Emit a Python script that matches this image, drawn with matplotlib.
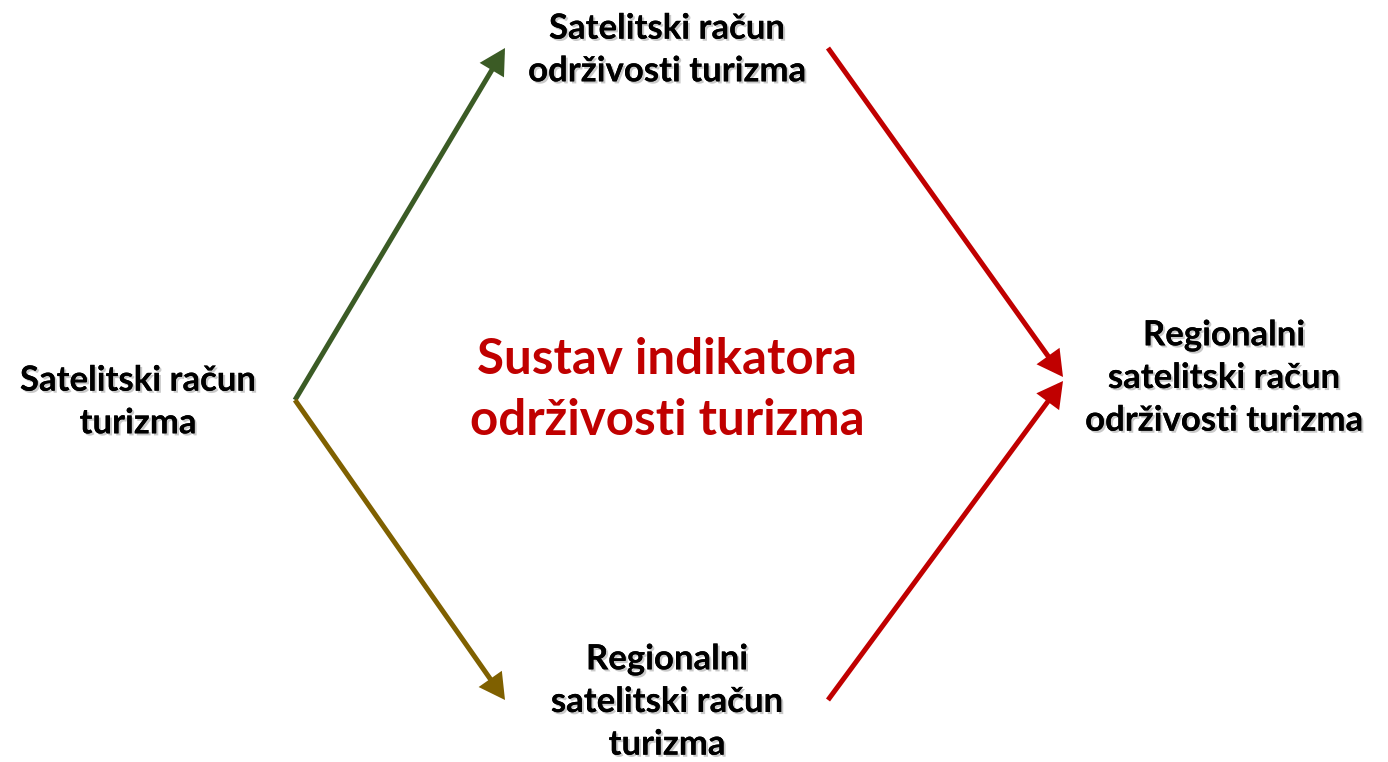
import matplotlib

matplotlib.use("Agg")
import matplotlib.pyplot as plt
import matplotlib.patheffects as pe
from matplotlib.patches import FancyArrowPatch

# node labels
node_labels = [
    "Satelitski račun\nturizma",
    "Satelitski račun\nodrživosti turizma",
    "Regionalni\nsatelitski račun\nturizma",
    "Regionalni\nsatelitski račun\nodrživosti turizma",
]
center_label = "Sustav indikatora\nodrživosti turizma"

# arrows: (from, to) as pixel points, and colours
arrow_starts = [(295, 400), (295, 400), (828, 48), (828, 700)]
arrow_ends = [(505, 48), (505, 700), (1063, 377), (1063, 381)]
arrow_colors = ["#3b5b25", "#7f6000", "#c00000", "#c00000"]

# label centres in pixels
label_pos = [(138, 402), (667, 50), (667, 702), (1224, 378)]

W, H = 1388, 762
fig = plt.figure(figsize=(W / 100, H / 100), dpi=100)
ax = fig.add_axes([0, 0, 1, 1])
ax.set_xlim(0, W)
ax.set_ylim(H, 0)
ax.axis("off")

shadow = [pe.withSimplePatchShadow(offset=(1.5, -1.5), shadow_rgbFace="#888888", alpha=0.45), pe.Normal()]

for text, (x, y) in zip(node_labels, label_pos):
    ax.text(x, y, text, ha="center", va="center", fontsize=25, fontweight="bold",
            family="Lato", color="black", linespacing=1.41, path_effects=shadow)

ax.text(667, 390, center_label, ha="center", va="center", fontsize=35.5, fontweight="bold",
        family="Lato", color="#c00000", linespacing=1.43)

for start, end, color in zip(arrow_starts, arrow_ends, arrow_colors):
    arr = FancyArrowPatch(start, end, arrowstyle="-|>,head_length=1.0,head_width=0.55",
                          mutation_scale=13, color=color, lw=3.6, shrinkA=0, shrinkB=0,
                          joinstyle="miter", capstyle="butt")
    ax.add_patch(arr)

fig.savefig("out.png", dpi=100)
